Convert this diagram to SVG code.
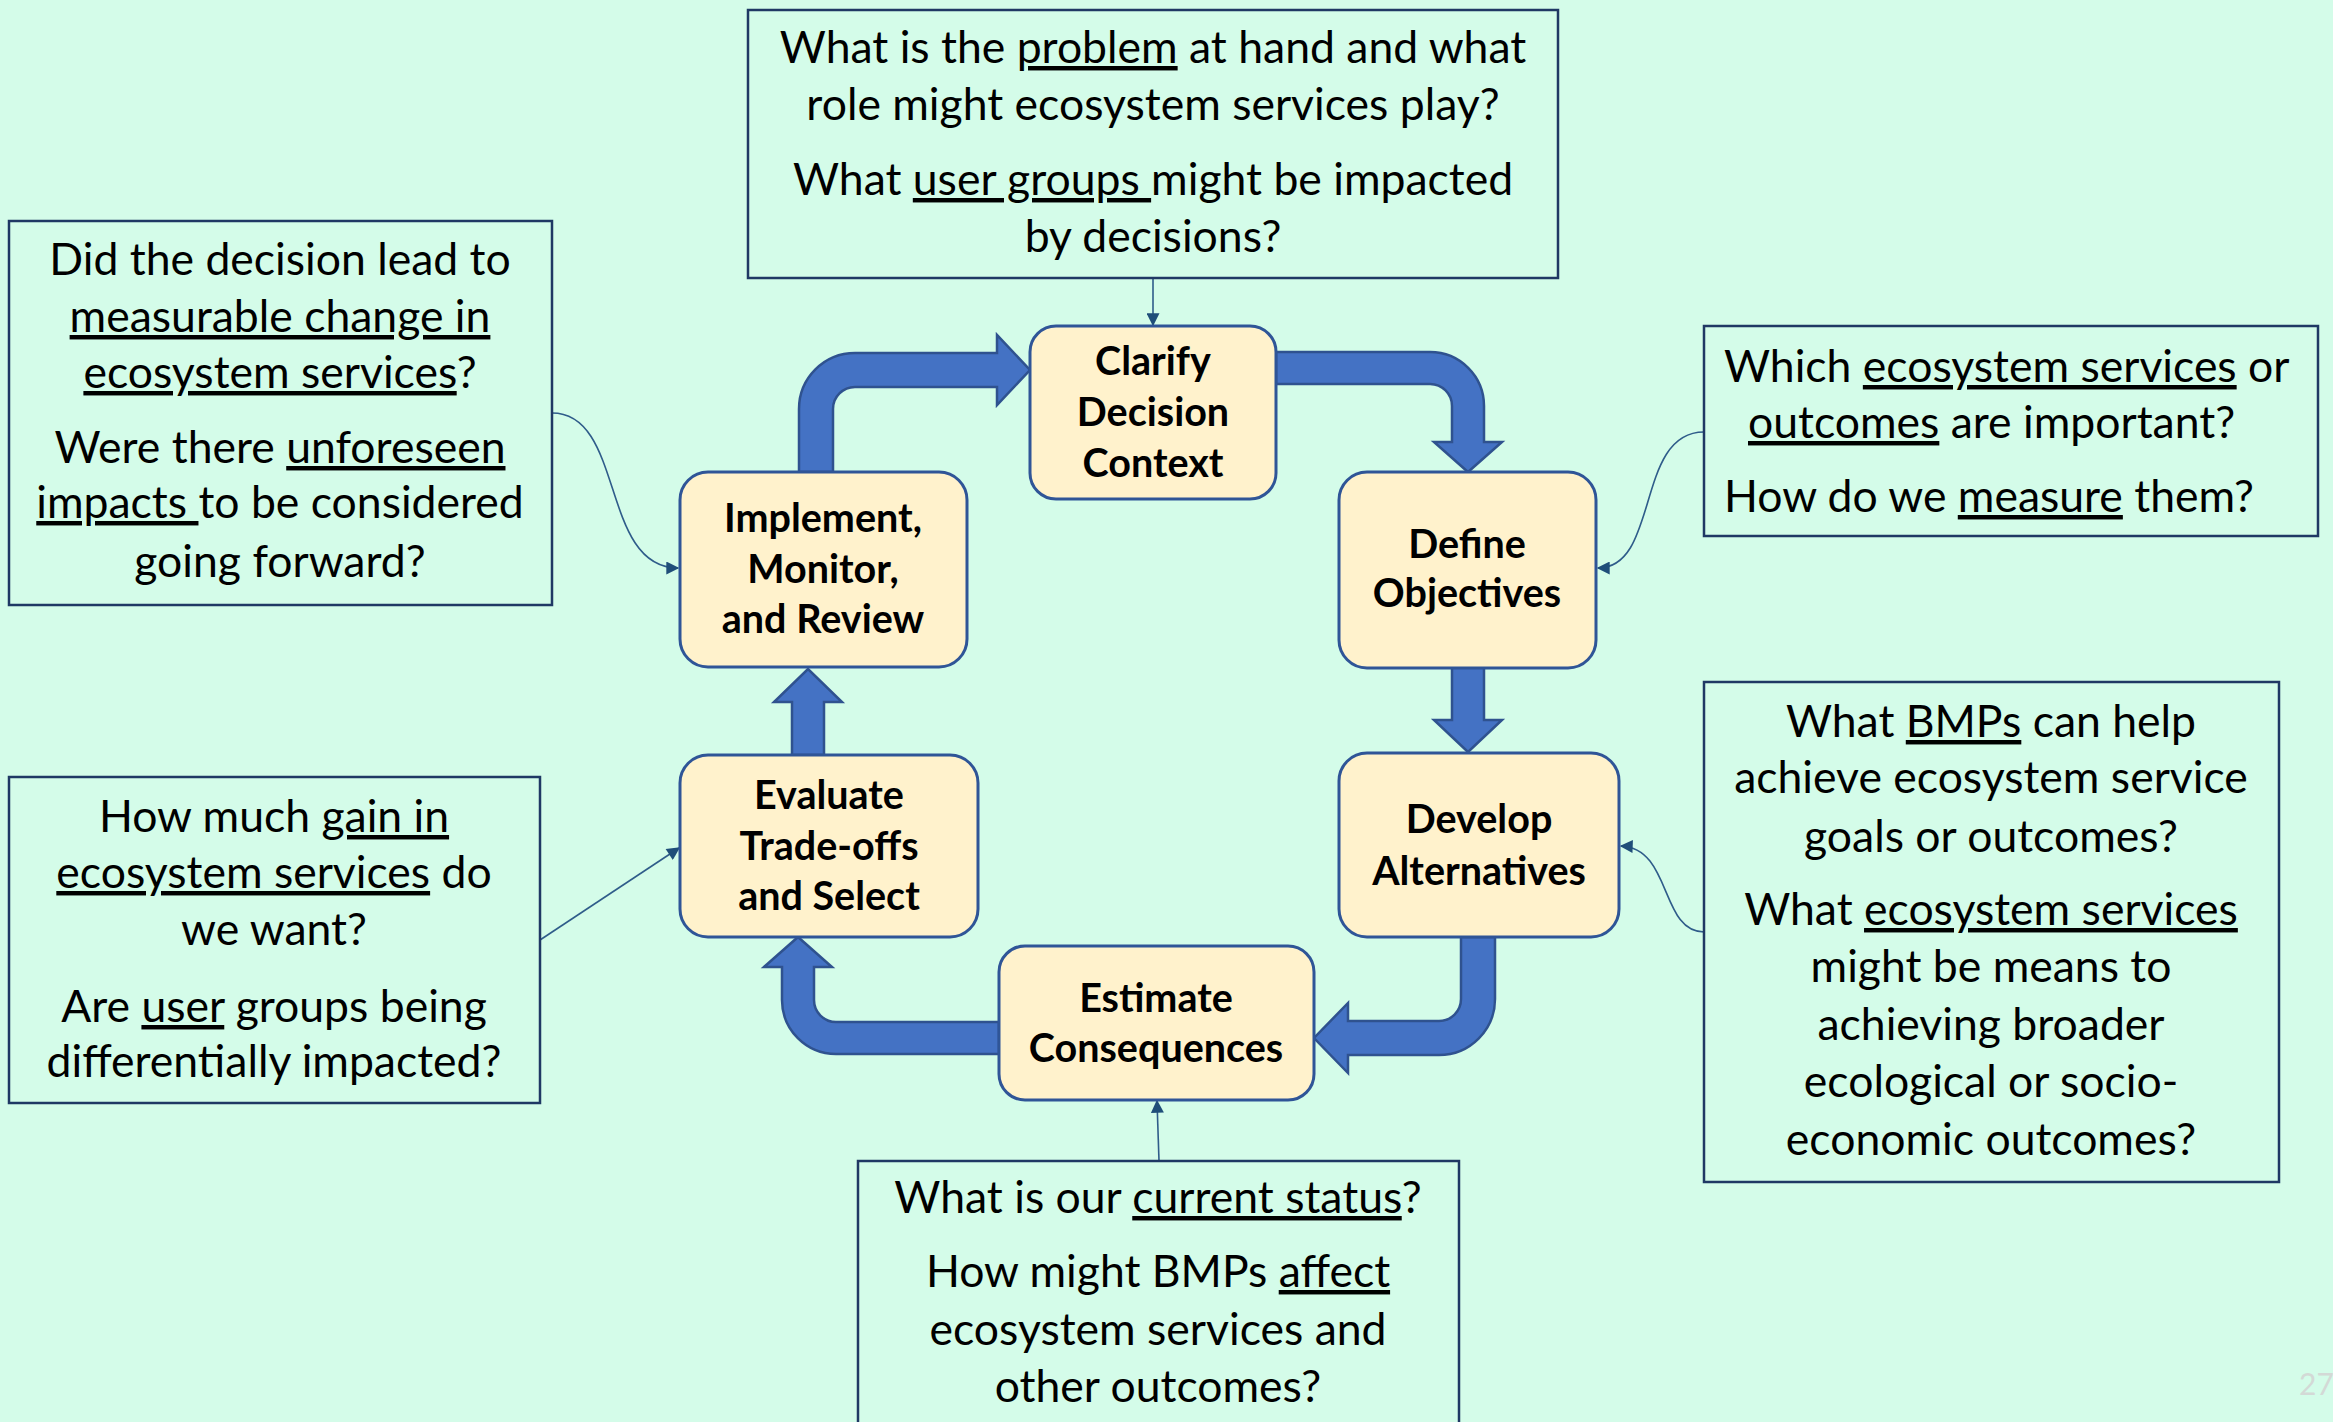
<svg xmlns="http://www.w3.org/2000/svg" width="2333" height="1422" viewBox="0 0 2333 1422">
<defs>
<style>
.q{font-family:Lato,"Liberation Sans",sans-serif;font-size:44.5px;fill:#000}
.c{text-anchor:middle}
.n{font-family:Lato,"Liberation Sans",sans-serif;font-weight:bold;font-size:39.5px;fill:#000;text-anchor:middle}
.u{text-decoration:underline}
.box{fill:none;stroke:#1F3864;stroke-width:2.5}
.node{fill:#FFF2CC;stroke:#2F5597;stroke-width:3}
.flow{fill:#4472C4;stroke:#2F528F;stroke-width:2.5;stroke-linejoin:miter}
.conn{fill:none;stroke:#2F5C8A;stroke-width:1.6;marker-end:url(#ah)}
</style>
<marker id="ah" viewBox="0 0 10 10" refX="9" refY="5" markerWidth="16" markerHeight="13" markerUnits="userSpaceOnUse" orient="auto"><path d="M0,0 L10,5 L0,10 z" fill="#1F4E79"/></marker>
</defs>
<rect x="0" y="0" width="2333" height="1422" fill="#D4FCE9"/>

<g id="flow-arrows">
<path class="flow" d="M799,472 L799,409 A56,56 0 0 1 855,353 L997,353 L997,335 L1030,370 L997,405 L997,387 L855,387 A22,22 0 0 0 833,409 L833,472 Z"/>
<path class="flow" d="M1276,352 L1430,352 A54,54 0 0 1 1484,406 L1484,442 L1502,442 L1468,472 L1434,442 L1452,442 L1452,406 A22,22 0 0 0 1430,384 L1276,384 Z"/>
<path class="flow" d="M1452,667 L1484,667 L1484,720 L1502,720 L1468,752 L1434,720 L1452,720 Z"/>
<path class="flow" d="M1461,937 L1495,937 L1495,999 A56,56 0 0 1 1439,1055 L1348,1055 L1348,1073 L1314,1038 L1348,1003 L1348,1021 L1439,1021 A22,22 0 0 0 1461,999 Z"/>
<path class="flow" d="M999,1022 L999,1054 L836,1054 A54,54 0 0 1 782,1000 L782,967 L764,967 L798,937 L832,967 L814,967 L814,1000 A22,22 0 0 0 836,1022 Z"/>
<path class="flow" d="M792,755 L792,702 L774,702 L808,669 L842,702 L824,702 L824,755 Z"/>
</g>

<g id="connectors">
<path class="conn" d="M1153,278 L1153,325"/>
<path class="conn" d="M552,413 C625,413 600,568 678,568"/>
<path class="conn" d="M1704,432 C1635,432 1660,568 1598,568"/>
<path class="conn" d="M1704,932 C1660,932 1672,848 1621,846"/>
<path class="conn" d="M540,940 L679,848"/>
<path class="conn" d="M1159,1161 L1157,1101"/>
</g>

<g id="node-clarify">
<rect class="node" x="1030" y="326" width="246" height="173" rx="26"/>
<text class="n" x="1153" y="375">Clarify</text>
<text class="n" x="1153" y="426">Decision</text>
<text class="n" x="1153" y="477">Context</text>
</g>
<g id="node-define">
<rect class="node" x="1339" y="472" width="257" height="196" rx="28"/>
<text class="n" x="1467" y="558">Define</text>
<text class="n" x="1467" y="607">Objectives</text>
</g>
<g id="node-develop">
<rect class="node" x="1339" y="753" width="280" height="184" rx="28"/>
<text class="n" x="1479" y="833">Develop</text>
<text class="n" x="1479" y="885">Alternatives</text>
</g>
<g id="node-estimate">
<rect class="node" x="999" y="946" width="315" height="154" rx="26"/>
<text class="n" x="1156" y="1012">Estimate</text>
<text class="n" x="1156" y="1062">Consequences</text>
</g>
<g id="node-evaluate">
<rect class="node" x="680" y="755" width="298" height="182" rx="28"/>
<text class="n" x="829" y="809">Evaluate</text>
<text class="n" x="829" y="860">Trade-offs</text>
<text class="n" x="829" y="910">and Select</text>
</g>
<g id="node-implement">
<rect class="node" x="680" y="472" width="287" height="195" rx="28"/>
<text class="n" x="823" y="532">Implement,</text>
<text class="n" x="823" y="583">Monitor,</text>
<text class="n" x="823" y="633">and Review</text>
</g>

<g id="q-top">
<rect class="box" x="748" y="10" width="810" height="268"/>
<text class="q c" x="1153" y="63">What is the <tspan class="u">problem</tspan> at hand and what</text>
<text class="q c" x="1153" y="120">role might ecosystem services play?</text>
<text class="q c" x="1153" y="195">What <tspan class="u">user groups </tspan>might be impacted</text>
<text class="q c" x="1153" y="252">by decisions?</text>
</g>
<g id="q-left-top">
<rect class="box" x="9" y="221" width="543" height="384"/>
<text class="q c" x="280" y="275">Did the decision lead to</text>
<text class="q c" x="280" y="332"><tspan class="u">measurable change in</tspan></text>
<text class="q c" x="280" y="388"><tspan class="u">ecosystem services</tspan>?</text>
<text class="q c" x="280" y="463">Were there <tspan class="u">unforeseen</tspan></text>
<text class="q c" x="280" y="518"><tspan class="u">impacts </tspan>to be considered</text>
<text class="q c" x="280" y="577">going forward?</text>
</g>
<g id="q-right-top">
<rect class="box" x="1704" y="326" width="614" height="210"/>
<text class="q" x="1724" y="382">Which <tspan class="u">ecosystem services</tspan> or</text>
<text class="q" x="1748" y="438"><tspan class="u">outcomes</tspan> are important?</text>
<text class="q" x="1724" y="512">How do we <tspan class="u">measure</tspan> them?</text>
</g>
<g id="q-right-bottom">
<rect class="box" x="1704" y="682" width="575" height="500"/>
<text class="q c" x="1991" y="737">What <tspan class="u">BMPs</tspan> can help</text>
<text class="q c" x="1991" y="793">achieve ecosystem service</text>
<text class="q c" x="1991" y="852">goals or outcomes?</text>
<text class="q c" x="1991" y="925">What <tspan class="u">ecosystem services</tspan></text>
<text class="q c" x="1991" y="982">might be means to</text>
<text class="q c" x="1991" y="1040">achieving broader</text>
<text class="q c" x="1991" y="1097">ecological or socio-</text>
<text class="q c" x="1991" y="1155">economic outcomes?</text>
</g>
<g id="q-left-bottom">
<rect class="box" x="9" y="777" width="531" height="326"/>
<text class="q c" x="274" y="832">How much <tspan class="u">gain in</tspan></text>
<text class="q c" x="274" y="888"><tspan class="u">ecosystem services</tspan> do</text>
<text class="q c" x="274" y="945">we want?</text>
<text class="q c" x="274" y="1022">Are <tspan class="u">user</tspan> groups being</text>
<text class="q c" x="274" y="1077">differentially impacted?</text>
</g>
<g id="q-bottom">
<rect class="box" x="858" y="1161" width="601" height="280"/>
<text class="q c" x="1158" y="1213">What is our <tspan class="u">current status</tspan>?</text>
<text class="q c" x="1158" y="1287">How might BMPs <tspan class="u">affect</tspan></text>
<text class="q c" x="1158" y="1345">ecosystem services and</text>
<text class="q c" x="1158" y="1402">other outcomes?</text>
</g>
<text x="2299" y="1395" font-family="Lato,'Liberation Sans',sans-serif" font-size="30" fill="#D3D9D6">27</text>
</svg>
